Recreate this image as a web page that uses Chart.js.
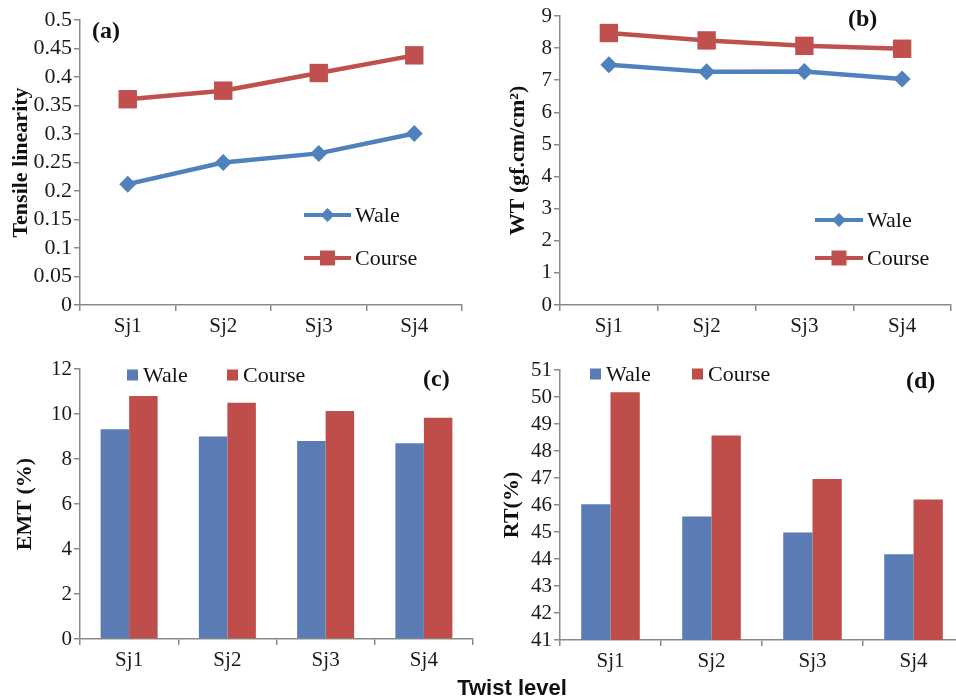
<!DOCTYPE html>
<html>
<head>
<meta charset="utf-8">
<script src="https://cdn.jsdelivr.net/npm/chart.js@4/dist/chart.umd.min.js"></script>
<style>
  html, body { margin:0; padding:0; background:#fff; overflow:hidden; width:956px; height:700px; }
  .panel { position:absolute; }
  #xtitle { position:absolute; left:412px; top:675px; width:200px; text-align:center;
    font:bold 22px 'Liberation Sans', Arial, sans-serif; color:#111; line-height:26px; }
</style>
</head>
<body>
<div class="panel" style="left:0;top:0"><canvas id="ca" width="480" height="340"></canvas></div>
<div class="panel" style="left:480px;top:0"><canvas id="cb" width="484" height="340"></canvas></div>
<div class="panel" style="left:0;top:340px"><canvas id="cc" width="480" height="340"></canvas></div>
<div class="panel" style="left:480px;top:340px"><canvas id="cd" width="484" height="340"></canvas></div>
<div id="xtitle">Twist level</div>
<script>
// data
const twistLevels = ['Sj1', 'Sj2', 'Sj3', 'Sj4'];
const seriesNames = ['Wale', 'Course'];
const tensileWale = [0.212, 0.25, 0.266, 0.301];
const tensileCourse = [0.361, 0.376, 0.407, 0.438];
const wtWale = [7.48, 7.26, 7.27, 7.04];
const wtCourse = [8.47, 8.24, 8.07, 7.98];
const emtWale = [9.32, 9.0, 8.8, 8.7];
const emtCourse = [10.8, 10.5, 10.13, 9.83];
const rtWale = [46.03, 45.57, 44.98, 44.18];
const rtCourse = [50.18, 48.57, 46.96, 46.2];

const BLUE = '#4F81BD', RED = '#C0504D', BAR_BLUE = '#5B7BB4', BAR_RED = '#BF4E4B', AXIS = '#8a8a8a';
const SERIF = "'Liberation Serif', 'Times New Roman', serif";
Chart.defaults.font.family = SERIF;
Chart.defaults.color = '#1a1a1a';

// panel letter + legend drawn on top
const decor = {
    id: 'decor',
    afterDraw(chart, args, o) {
        const ctx = chart.ctx;
        ctx.save();
        ctx.textBaseline = 'middle';
        ctx.fillStyle = '#111';
        ctx.font = 'bold 24px ' + SERIF;
        ctx.fillText(o.label, o.lx, o.ly);
        ctx.font = '22px ' + SERIF;
        chart.data.datasets.forEach((ds, i) => {
            const it = o.items[i];
            if (o.kind === 'line') {
                const col = ds.borderColor;
                ctx.strokeStyle = col; ctx.lineWidth = 4;
                ctx.beginPath(); ctx.moveTo(it.x0, it.y); ctx.lineTo(it.x1, it.y); ctx.stroke();
                const cx = (it.x0 + it.x1) / 2;
                ctx.fillStyle = col;
                ctx.beginPath();
                if (ds.pointStyle === 'rectRot') {
                    const r = 7;
                    ctx.moveTo(cx, it.y - r); ctx.lineTo(cx + r, it.y); ctx.lineTo(cx, it.y + r); ctx.lineTo(cx - r, it.y);
                } else {
                    const h = 7.5;
                    ctx.rect(cx - h, it.y - h, 2 * h, 2 * h);
                }
                ctx.fill();
                ctx.fillStyle = '#111';
                ctx.fillText(ds.label, it.x1 + 4, it.y + 1);
            } else {
                ctx.fillStyle = ds.backgroundColor;
                ctx.fillRect(it.x, it.y - 5.5, 11, 11);
                ctx.fillStyle = '#111';
                ctx.fillText(ds.label, it.x + 16, it.y + 1);
            }
        });
        ctx.restore();
    }
};

function makePanel(id, type, a, b, yOpt, pad, yW, xH, yTitle, deco) {
    const line = type === 'line';
    const ds = [a, b].map((d, i) => line ? {
        label: seriesNames[i], data: d,
        borderColor: i ? RED : BLUE, backgroundColor: i ? RED : BLUE,
        borderWidth: 4.5, pointStyle: i ? 'rect' : 'rectRot', pointRadius: i ? 13 : 8.5,
        pointBorderWidth: 0, tension: 0
    } : {
        label: seriesNames[i], data: d,
        backgroundColor: i ? BAR_RED : BAR_BLUE, borderColor: i ? BAR_RED : BAR_BLUE, borderWidth: 0,
        categoryPercentage: 0.58, barPercentage: 1
    });
    return new Chart(document.getElementById(id), {
        type,
        data: { labels: twistLevels, datasets: ds },
        plugins: [decor],
        options: {
            responsive: false, animation: false,
            layout: { padding: pad },
            plugins: { legend: { display: false }, tooltip: { enabled: false }, decor: deco },
            scales: {
                x: {
                    offset: true,
                    grid: { offset: true, drawOnChartArea: false, drawTicks: true, tickLength: 6, color: AXIS, lineWidth: 1.5 },
                    border: { color: AXIS, width: 1.5 },
                    ticks: { font: { size: 21 }, padding: 3, color: '#1a1a1a' },
                    afterFit: s => { s.height = xH; }
                },
                y: Object.assign({
                    grid: { drawOnChartArea: false, drawTicks: true, tickLength: 6, color: AXIS, lineWidth: 1.5 },
                    border: { color: AXIS, width: 1.5 },
                    title: { display: true, text: yTitle, font: { size: 22, weight: 'bold' }, padding: { top: 4, bottom: 0 }, color: '#111' },
                    afterFit: s => { s.width = yW; }
                }, yOpt)
            }
        }
    });
}

makePanel('ca', 'line', tensileWale, tensileCourse,
    { min: 0, max: 0.5, ticks: { stepSize: 0.05, autoSkip: false, font: { size: 22 }, padding: 2, callback: v => String(+v.toFixed(2)) } },
    { left: 4, top: 20, right: 18, bottom: 0 }, 76, 35, 'Tensile linearity',
    { label: '(a)', lx: 92, ly: 32, kind: 'line', items: [{ x0: 304, x1: 351, y: 215 }, { x0: 304, x1: 351, y: 258 }] });

makePanel('cb', 'line', wtWale, wtCourse,
    { min: 0, max: 9, ticks: { stepSize: 1, autoSkip: false, font: { size: 21 }, padding: 2 } },
    { left: 21, top: 16, right: 0, bottom: 0 }, 59, 35, 'WT (gf.cm/cm²)',
    { label: '(b)', lx: 368, ly: 20, kind: 'line', items: [{ x0: 335, x1: 383, y: 220 }, { x0: 335, x1: 383, y: 258 }] });

makePanel('cc', 'bar', emtWale, emtCourse,
    { min: 0, max: 12, ticks: { stepSize: 2, autoSkip: false, font: { size: 21 }, padding: 2 } },
    { left: 8, top: 29, right: 7, bottom: 0 }, 72, 41, 'EMT (%)',
    { label: '(c)', lx: 423, ly: 40, kind: 'bar', items: [{ x: 127, y: 35 }, { x: 227, y: 35 }] });

makePanel('cd', 'bar', rtWale, rtCourse,
    { min: 41, max: 51, ticks: { stepSize: 1, autoSkip: false, font: { size: 21 }, padding: 2 } },
    { left: 15, top: 30, right: 0, bottom: 0 }, 65, 40, 'RT(%)',
    { label: '(d)', lx: 426, ly: 42, kind: 'bar', items: [{ x: 110, y: 34 }, { x: 212, y: 34 }] });
</script>
</body>
</html>
